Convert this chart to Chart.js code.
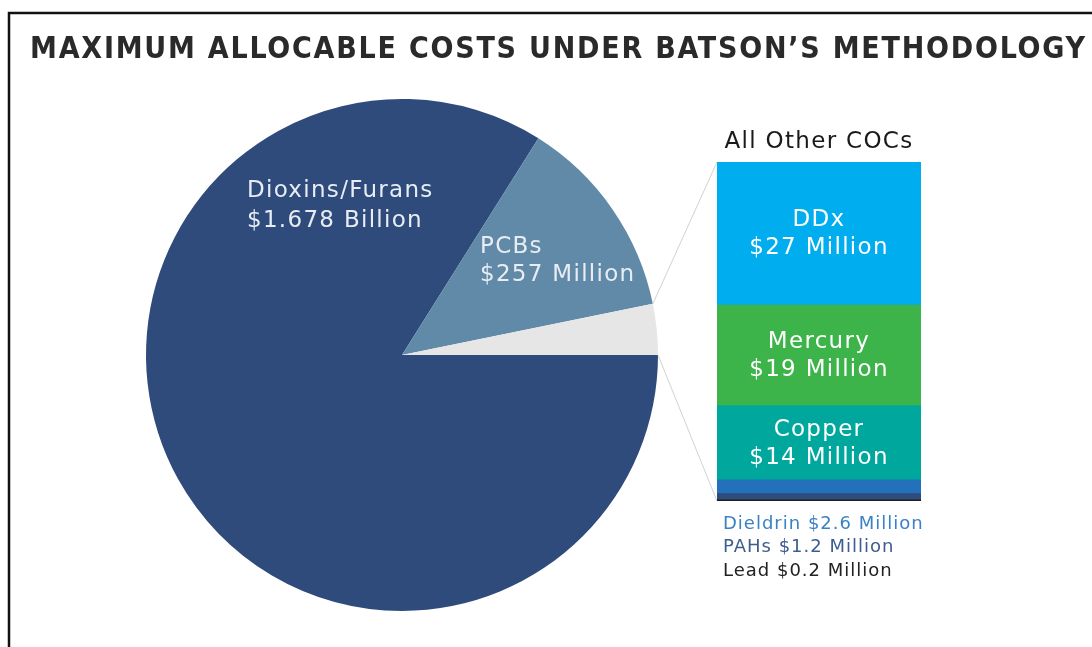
<!DOCTYPE html>
<html>
<head>
<meta charset="utf-8">
<script src="https://cdn.jsdelivr.net/npm/chart.js@4/dist/chart.umd.min.js"></script>
<style>
  html, body { margin: 0; padding: 0; background: #fff; }
  #wrap { position: relative; width: 1092px; height: 647px; overflow: hidden; }
  #wrap canvas { position: absolute; left: 0; top: 0; }
</style>
</head>
<body>
<div id="wrap">
  <canvas id="pieChart" width="1092" height="647"></canvas>
  <canvas id="cocChart" width="1092" height="647"></canvas>
</div>
<script>
// Other contaminants of concern, bottom of the stack first (million $)
const cocNames = ["Lead", "PAHs", "Dieldrin", "Copper", "Mercury", "DDx"];
const cocValues = [0.2, 1.2, 2.6, 14, 19, 27];
const cocColors = ["#1f1f1f", "#2f4b7c", "#2371bb", "#00a79d", "#3db44a", "#00adef"];
const cocTextColors = ["#222222", "#3d5c8f", "#3b82c4", "#ffffff", "#ffffff", "#ffffff"];

const otherTotal = cocValues.reduce((a, b) => a + b, 0);

// Main pie (million $)
const pieNames = ["Dioxins/Furans", "PCBs", "All Other COCs"];
const pieValues = [1678, 257, otherTotal];
const pieAmounts = ["$1.678 Billion", "$257 Million", ""];
const pieColors = ["#2f4b7c", "#618aa8", "#e6e6e6"];

const TITLE = "MAXIMUM ALLOCABLE COSTS UNDER BATSON\u2019S METHODOLOGY";
const FONT = "'DejaVu Sans', sans-serif";
const SPACING = "1.3px";

function fmtMillion(v) {
  return "$" + v + " Million";
}

// stacked bar of the small slice
const cocChart = new Chart(document.getElementById("cocChart"), {
  type: "bar",
  data: {
    labels: ["All Other COCs"],
    datasets: cocNames.map((name, i) => ({
      label: name,
      data: [cocValues[i]],
      backgroundColor: cocColors[i],
      borderWidth: 0,
      barPercentage: 1,
      categoryPercentage: 1,
    })),
  },
  options: {
    responsive: false,
    animation: false,
    layout: { padding: { left: 717, right: 171, top: 162, bottom: 146 } },
    scales: {
      x: { display: false, stacked: true },
      y: { display: false, stacked: true, min: 0, max: otherTotal },
    },
    plugins: { legend: { display: false }, tooltip: { enabled: false } },
  },
  plugins: [
    {
      id: "cocLabels",
      afterDraw(chart) {
        const ctx = chart.ctx;
        const area = chart.chartArea;
        const cx = (area.left + area.right) / 2;
        ctx.save();
        ctx.textBaseline = "middle";
        ctx.letterSpacing = SPACING;

        // heading above the bar
        ctx.textAlign = "center";
        ctx.fillStyle = "#1a1a1a";
        ctx.font = "23px " + FONT;
        ctx.fillText("All Other COCs", cx, area.top - 20);

        // names inside the large segments, small ones listed below
        let below = [];
        chart.data.datasets.forEach((ds, i) => {
          const bar = chart.getDatasetMeta(i).data[0];
          const v = ds.data[0];
          if (v >= 10) {
            const my = (bar.y + bar.base) / 2;
            ctx.fillStyle = cocTextColors[i];
            ctx.font = "23px " + FONT;
            ctx.fillText(ds.label, cx, my - 13);
            ctx.fillText(fmtMillion(v), cx, my + 15);
          } else {
            below.unshift(i);
          }
        });

        ctx.textAlign = "left";
        ctx.font = "18px " + FONT;
        ctx.letterSpacing = "1px";
        below.forEach((i, n) => {
          ctx.fillStyle = cocTextColors[i];
          const ds = chart.data.datasets[i];
          ctx.fillText(ds.label + " " + fmtMillion(ds.data[0]), area.left + 6, area.bottom + 23 + n * 23.5);
        });
        ctx.restore();
      },
    },
  ],
});

const pieChart = new Chart(document.getElementById("pieChart"), {
  type: "pie",
  data: {
    labels: pieNames,
    datasets: [
      {
        data: pieValues,
        backgroundColor: pieColors,
        borderWidth: 0,
        hoverOffset: 0,
      },
    ],
  },
  options: {
    responsive: false,
    animation: false,
    rotation: 90,
    layout: { padding: { left: 146, right: 434, top: 99, bottom: 36 } },
    plugins: { legend: { display: false }, tooltip: { enabled: false } },
  },
  plugins: [
    {
      id: "frameTitle",
      beforeDraw(chart) {
        const ctx = chart.ctx;
        ctx.save();
        ctx.fillStyle = "#fff";
        ctx.fillRect(0, 0, chart.width, chart.height);
        // frame: only top and left edges fall inside the view
        ctx.strokeStyle = "#111";
        ctx.lineWidth = 2.5;
        ctx.beginPath();
        ctx.moveTo(9, chart.height);
        ctx.lineTo(9, 13);
        ctx.lineTo(chart.width, 13);
        ctx.stroke();

        // title spread to run from x=30 to x=1085
        ctx.fillStyle = "#2a2a2a";
        ctx.font = "bold 30px 'DejaVu Sans Condensed', 'Liberation Sans', sans-serif";
        ctx.textAlign = "left";
        ctx.textBaseline = "alphabetic";
        const w = ctx.measureText(TITLE).width;
        const gap = (1055 - w) / (TITLE.length - 1);
        ctx.letterSpacing = gap.toFixed(2) + "px";
        ctx.fillText(TITLE, 30, 58);
        ctx.restore();
      },
      afterDraw(chart) {
        const ctx = chart.ctx;
        const arcs = chart.getDatasetMeta(0).data;
        const px = arcs[0].x, py = arcs[0].y;
        ctx.save();

        // slice labels
        ctx.fillStyle = "#e8edf3";
        ctx.font = "23px " + FONT;
        ctx.letterSpacing = SPACING;
        ctx.textAlign = "left";
        ctx.textBaseline = "middle";
        ctx.fillText(pieNames[0], px - 155, py - 164);
        ctx.fillText(pieAmounts[0], px - 155, py - 134);
        ctx.fillText(pieNames[1], px + 78, py - 108);
        ctx.fillText(pieAmounts[1], px + 78, py - 80);

        // connectors from the small slice to the bar
        const other = arcs[2];
        const r = other.outerRadius;
        const area = cocChart.chartArea;
        ctx.strokeStyle = "#d2d2d2";
        ctx.lineWidth = 1;
        ctx.beginPath();
        ctx.moveTo(px + r * Math.cos(other.startAngle), py + r * Math.sin(other.startAngle));
        ctx.lineTo(area.left, area.top);
        ctx.moveTo(px + r * Math.cos(other.endAngle), py + r * Math.sin(other.endAngle));
        ctx.lineTo(area.left, area.bottom);
        ctx.stroke();
        ctx.restore();
      },
    },
  ],
});
</script>
</body>
</html>
